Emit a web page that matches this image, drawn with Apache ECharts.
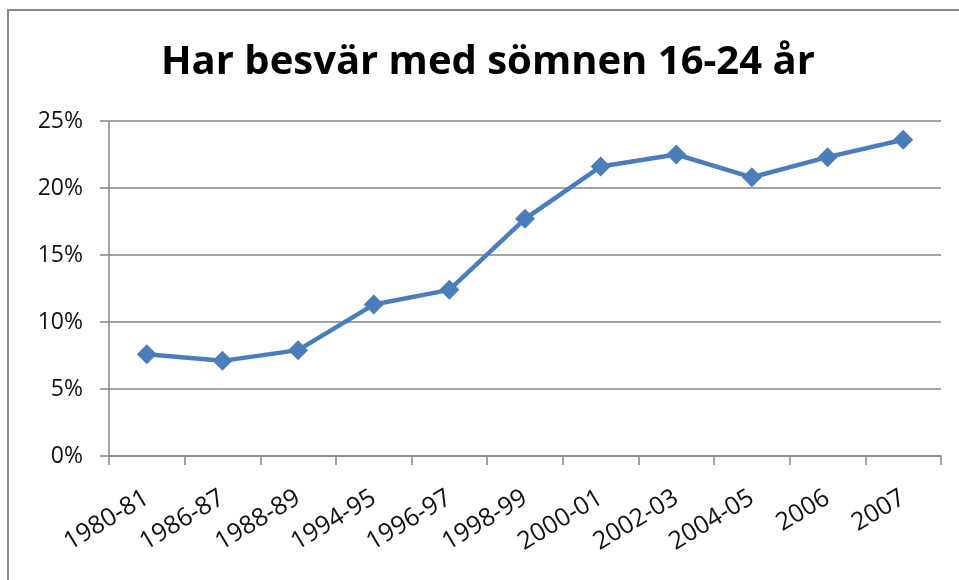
<!DOCTYPE html>
<html>
<head>
<meta charset="utf-8">
<title>Har besvär med sömnen 16-24 år</title>
<script src="https://cdn.jsdelivr.net/npm/echarts@6/dist/echarts.min.js"></script>
<style>
  html, body { margin: 0; padding: 0; background: #fff; }
  #main { width: 959px; height: 580px; }
</style>
</head>
<body>
<div id="main"></div>
<script type="text/javascript">
    var categories = ['1980-81', '1986-87', '1988-89', '1994-95', '1996-97', '1998-99',
        '2000-01', '2002-03', '2004-05', '2006', '2007'];
    var values = [7.6, 7.1, 7.9, 11.3, 12.4, 17.7, 21.6, 22.5, 20.8, 22.3, 23.6];
    var yTicks = [0, 5, 10, 15, 20, 25];

    var chart = echarts.init(document.getElementById('main'));
    chart.setOption({
        animation: false,
        backgroundColor: '#ffffff',
        textStyle: { fontFamily: 'Open Sans' },
        title: {
            text: 'Har besvär med sömnen 16-24 år',
            left: 156,
            top: 38,
            textStyle: { fontSize: 40, fontWeight: 'bold', color: '#000', fontFamily: 'Open Sans' }
        },
        graphic: [{
            type: 'rect',
            shape: { x: 8, y: 10, width: 960, height: 580 },
            style: { fill: null, stroke: '#868686', lineWidth: 2 },
            silent: true
        }],
        grid: { left: 109, right: 18, top: 121, bottom: 124 },
        xAxis: {
            type: 'category',
            data: categories,
            boundaryGap: true,
            axisLine: { lineStyle: { color: '#868686', width: 1.5 } },
            axisTick: { show: true, length: 9, lineStyle: { color: '#868686', width: 1.5 } },
            axisLabel: { rotate: 31, fontSize: 25, color: '#111', margin: 40, interval: 0 }
        },
        yAxis: {
            type: 'value',
            min: yTicks[0],
            max: yTicks[yTicks.length - 1],
            interval: 5,
            axisLine: { show: true, lineStyle: { color: '#868686', width: 1.5 } },
            axisTick: { show: true, length: 9, lineStyle: { color: '#868686', width: 1.5 } },
            splitLine: { lineStyle: { color: '#868686', width: 1.5 } },
            axisLabel: { fontSize: 23, color: '#111', margin: 26, formatter: '{value}%' }
        },
        series: [{
            type: 'line',
            data: values,
            symbol: 'diamond',
            symbolSize: 20,
            lineStyle: { color: '#4a7ebb', width: 4.5 },
            itemStyle: { color: '#4a7ebb' }
        }]
    });
</script>
</body>
</html>
